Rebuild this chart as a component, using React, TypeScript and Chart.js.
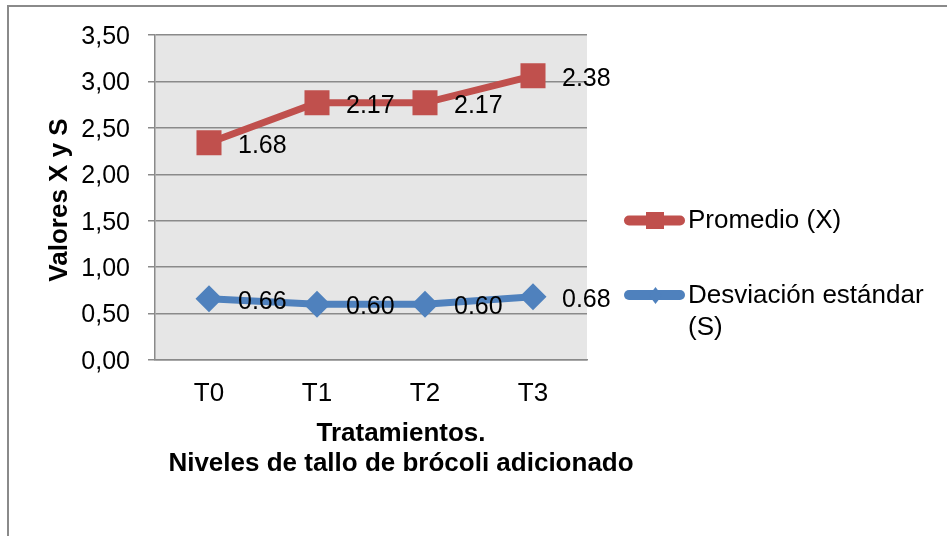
import React, { useEffect, useRef } from 'react';
import { Chart, registerables } from 'chart.js';

Chart.register(...registerables);

const categories = ['T0', 'T1', 'T2', 'T3'];
const promedioValues = [1.68, 2.17, 2.17, 2.38];
const desviacionValues = [0.66, 0.6, 0.6, 0.68];
const promedioLabel = 'Promedio (X)';
const desviacionLabel = 'Desviación estándar (S)';
const yAxisTitle = 'Valores X y S';
const xAxisTitleLines = ['Tratamientos.', 'Niveles de tallo de brócoli adicionado'];
const yMin = 0;
const yMax = 3.5;
const yStep = 0.5;

const RED = '#C0504D';
const BLUE = '#4F81BD';
const GRID = '#8a8a8a';
const FONT = '"Liberation Sans", Arial, sans-serif';

const W = 947;
const H = 536;

function drawSquare(ctx: CanvasRenderingContext2D, x: number, y: number, w: number, h: number, color: string) {
  ctx.fillStyle = color;
  ctx.fillRect(x - w / 2, y - h / 2, w, h);
}

function drawDiamond(ctx: CanvasRenderingContext2D, x: number, y: number, hw: number, hh: number, color: string) {
  ctx.fillStyle = color;
  ctx.beginPath();
  ctx.moveTo(x - hw, y);
  ctx.lineTo(x, y - hh);
  ctx.lineTo(x + hw, y);
  ctx.lineTo(x, y + hh);
  ctx.closePath();
  ctx.fill();
}

function wrapWords(ctx: CanvasRenderingContext2D, text: string, maxW: number): string[] {
  const words = text.split(' ');
  const lines: string[] = [];
  let cur = '';
  for (const w of words) {
    const test = cur ? cur + ' ' + w : w;
    if (ctx.measureText(test).width > maxW && cur) {
      lines.push(cur);
      cur = w;
    } else {
      cur = test;
    }
  }
  if (cur) lines.push(cur);
  return lines;
}

const decorPlugin = {
  id: 'decor',
  beforeDraw(chart: any) {
    const { ctx, chartArea } = chart;
    ctx.save();
    ctx.fillStyle = '#ffffff';
    ctx.fillRect(0, 0, chart.width, chart.height);
    ctx.fillStyle = '#e6e6e6';
    ctx.fillRect(chartArea.left, chartArea.top, chartArea.right - chartArea.left, chartArea.bottom - chartArea.top);
    // outer frame
    ctx.strokeStyle = '#8a8a8a';
    ctx.lineWidth = 2;
    ctx.beginPath();
    ctx.moveTo(8, chart.height);
    ctx.lineTo(8, 6);
    ctx.lineTo(chart.width, 6);
    ctx.stroke();
    ctx.restore();
  },
  afterDatasetsDraw(chart: any) {
    const { ctx } = chart;
    ctx.save();
    ctx.font = `25px ${FONT}`;
    ctx.fillStyle = '#000000';
    ctx.textAlign = 'left';
    ctx.textBaseline = 'middle';
    chart.data.datasets.forEach((ds: any, di: number) => {
      const meta = chart.getDatasetMeta(di);
      meta.data.forEach((pt: any, i: number) => {
        const v = ds.data[i] as number;
        ctx.fillText(v.toFixed(2), pt.x + 29, pt.y + 3);
      });
    });
    ctx.restore();
  },
  afterDraw(chart: any) {
    const { ctx } = chart;
    ctx.save();
    // Y axis title
    ctx.font = `bold 26px ${FONT}`;
    ctx.fillStyle = '#000000';
    ctx.textAlign = 'center';
    ctx.textBaseline = 'alphabetic';
    ctx.translate(67, 200);
    ctx.rotate(-Math.PI / 2);
    ctx.fillText(yAxisTitle, 0, 0);
    ctx.setTransform(1, 0, 0, 1, 0, 0);
    // X axis title
    ctx.textAlign = 'center';
    ctx.fillText(xAxisTitleLines[0], 401, 441);
    ctx.fillText(xAxisTitleLines[1], 401, 471);

    // Legend
    const lx0 = 624;
    const lx1 = 685;
    const tx = 688;
    ctx.lineCap = 'round';
    ctx.lineWidth = 10;
    // Promedio
    ctx.strokeStyle = RED;
    ctx.beginPath();
    ctx.moveTo(lx0 + 5, 220.5);
    ctx.lineTo(lx1 - 5, 220.5);
    ctx.stroke();
    drawSquare(ctx, 655, 220.5, 18, 17, RED);
    // Desviacion
    ctx.strokeStyle = BLUE;
    ctx.beginPath();
    ctx.moveTo(lx0 + 5, 295);
    ctx.lineTo(lx1 - 5, 295);
    ctx.stroke();
    drawDiamond(ctx, 655.5, 295.5, 6.5, 8.5, BLUE);

    ctx.font = `26px ${FONT}`;
    ctx.fillStyle = '#000000';
    ctx.textAlign = 'left';
    ctx.textBaseline = 'middle';
    ctx.fillText(promedioLabel, tx, 221);
    const lines = wrapWords(ctx, desviacionLabel, W - tx - 12);
    lines.forEach((ln, i) => ctx.fillText(ln, tx, 296 + i * 32));
    ctx.restore();
  },
};

export default function App() {
  const canvasRef = useRef<HTMLCanvasElement | null>(null);

  useEffect(() => {
    const canvas = canvasRef.current;
    if (!canvas) return;
    const chart = new Chart(canvas, {
      type: 'line',
      data: {
        labels: categories,
        datasets: [
          {
            label: desviacionLabel,
            data: desviacionValues,
            borderColor: BLUE,
            backgroundColor: BLUE,
            borderWidth: 7,
            pointStyle: 'rectRot',
            pointRadius: 13.5,
            pointBorderWidth: 0,
            pointBackgroundColor: BLUE,
            fill: false,
            tension: 0,
          },
          {
            label: promedioLabel,
            data: promedioValues,
            borderColor: RED,
            backgroundColor: RED,
            borderWidth: 7,
            pointStyle: 'rect',
            pointRadius: 17.7,
            pointBorderWidth: 0,
            pointBackgroundColor: RED,
            fill: false,
            tension: 0,
          },
        ],
      },
      options: {
        responsive: false,
        animation: false,
        devicePixelRatio: 1,
        layout: { padding: { left: 0, top: 35, right: W - 587, bottom: 0 } },
        plugins: {
          legend: { display: false },
          title: { display: false },
          tooltip: { enabled: false },
        },
        scales: {
          x: {
            type: 'category',
            offset: true,
            grid: { display: false, drawTicks: false, tickLength: 0 },
            border: { display: true, color: GRID, width: 1.5 },
            ticks: {
              padding: 18,
              color: '#000000',
              font: { family: FONT, size: 26 },
              maxRotation: 0,
            },
            afterFit: (scale: any) => {
              scale.height = H - 360;
            },
          },
          y: {
            stacked: true,
            min: yMin,
            max: yMax,
            grid: { color: GRID, lineWidth: 1.5, drawTicks: true, tickLength: 7, tickColor: GRID },
            border: { display: true, color: GRID, width: 1.5 },
            ticks: {
              stepSize: yStep,
              padding: 18,
              labelOffset: 2,
              color: '#000000',
              font: { family: FONT, size: 25 },
              callback: (v: any) => Number(v).toFixed(2).replace('.', ','),
            },
            afterFit: (scale: any) => {
              scale.width = 155;
            },
          },
        },
      },
      plugins: [decorPlugin],
    });
    return () => chart.destroy();
  }, []);

  return (
    <div style={{ position: 'absolute', left: 0, top: 0, width: W, height: H, background: '#fff' }}>
      <canvas ref={canvasRef} width={W} height={H} style={{ width: W, height: H, display: 'block' }} />
    </div>
  );
}
